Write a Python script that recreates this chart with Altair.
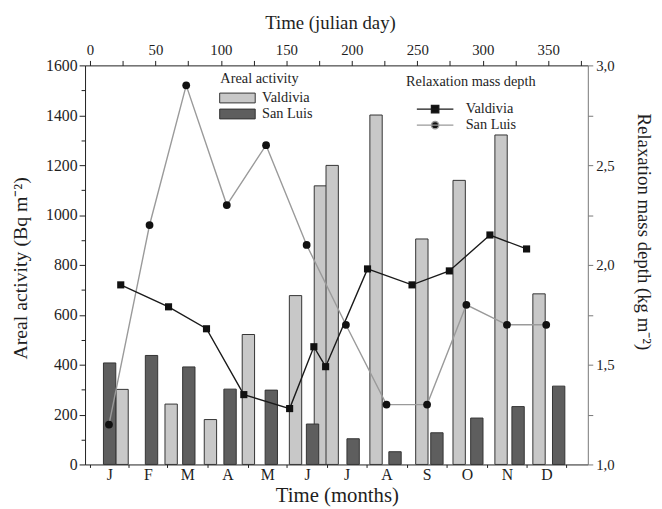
import altair as alt
import pandas as pd

# ---- data ----
sites = ["Valdivia", "San Luis"]

# Areal activity bars (julian day of bar centre, Bq m-2)
valdivia_bar_day = [24.5, 62, 92, 121, 157, 176, 185, 218.5, 253.5, 282, 314, 343]
valdivia_activity = [301, 242, 180, 521, 677, 1117, 1199, 1401, 904, 1139, 1321, 684]
sanluis_bar_day = [15, 47, 75.5, 107, 138.5, 170, 201, 233, 265, 295.5, 327, 358]
sanluis_activity = [407, 437, 391, 302, 298, 162, 103, 51, 127, 186, 232, 314]

# Relaxation mass depth (kg m-2)
valdivia_depth_day = [23.5, 60, 89, 117.5, 152.5, 171, 180, 212, 246, 274.5, 305.5, 333.5]
valdivia_depth = [1.90, 1.79, 1.68, 1.35, 1.28, 1.59, 1.49, 1.98, 1.90, 1.97, 2.15, 2.08]
sanluis_depth_day = [14.5, 45.5, 73.5, 104.5, 134.5, 165.5, 195.5, 226.5, 257.5, 287.5, 318.5, 348.5]
sanluis_depth = [1.20, 2.20, 2.90, 2.30, 2.60, 2.10, 1.70, 1.30, 1.30, 1.80, 1.70, 1.70]

# Month axis
month_letters = ["J", "F", "M", "A", "M", "J", "J", "A", "S", "O", "N", "D"]
month_starts = [0, 29.5, 59, 89.5, 120.5, 150.5, 181, 211, 242, 272.5, 303.5, 333.5, 364]
month_mids = [(a + b) / 2 for a, b in zip(month_starts[:-1], month_starts[1:])]

julian_ticks = list(range(0, 376, 25))
activity_ticks = list(range(0, 1601, 100))
depth_ticks = [1.0, 1.25, 1.5, 1.75, 2.0, 2.25, 2.5, 2.75, 3.0]

# ---- tables ----
bar_df = pd.DataFrame({
    "day": valdivia_bar_day + sanluis_bar_day,
    "activity": valdivia_activity + sanluis_activity,
    "site": ["Valdivia"] * len(valdivia_bar_day) + ["San Luis"] * len(sanluis_bar_day),
})
v_df = pd.DataFrame({"day": valdivia_depth_day, "depth": valdivia_depth, "site": "Valdivia"})
s_df = pd.DataFrame({"day": sanluis_depth_day, "depth": sanluis_depth, "site": "San Luis"})
depth_df = pd.concat([v_df, s_df], ignore_index=True)
# separate key (trailing space) so that this legend is not merged with the bar legend
depth_df["series"] = depth_df["site"] + " "
line_sites = [s + " " for s in sites]

FONT = "Liberation Serif"
INK = "#1e1e1e"

xscale = alt.Scale(domain=[0, 376.5], nice=False, zero=False)

starts_js = "[" + ",".join(str(v) for v in month_starts) + "]"
mids_js = "[" + ",".join(str(v) for v in month_mids) + "]"
letters_js = "[" + ",".join("'" + m + "'" for m in month_letters) + "]"

bottom_axis = alt.Axis(
    orient="bottom",
    values=month_starts + month_mids,
    labelExpr=f"indexof({mids_js}, datum.value) >= 0 ? {letters_js}[indexof({mids_js}, datum.value)] : ''",
    tickOpacity={"condition": {"test": f"indexof({starts_js}, datum.value) >= 0", "value": 1}, "value": 0},
    tickSize=3, labelPadding=-1, labelFlush=False, labelOverlap=False,
    labelFont=FONT, labelFontSize=16, labelColor=INK,
    domainColor=INK, tickColor=INK, grid=False,
    title="Time (months)", titleFont=FONT, titleFontSize=21, titleFontWeight="normal",
    titleColor=INK, titleX=255, titleY=32, titleAlign="center", titleBaseline="middle",
)

top_axis = alt.Axis(
    orient="top",
    values=julian_ticks, format="d",
    labelExpr="datum.value % 50 == 0 ? datum.label : ''",
    tickSize=5, labelPadding=3, labelFlush=False, labelOverlap=False,
    labelFont=FONT, labelFontSize=15, labelColor=INK,
    domainColor=INK, tickColor=INK, grid=False,
    title="Time (julian day)", titleFont=FONT, titleFontSize=19, titleFontWeight="normal",
    titleColor=INK, titleX=248, titleY=-43, titleAlign="center", titleBaseline="middle",
)

left_axis = alt.Axis(
    orient="left",
    values=activity_ticks, format="d",
    labelExpr="datum.value % 200 == 0 ? datum.label : ''",
    tickSize={"condition": {"test": "datum.value % 200 == 0", "value": 6}, "value": 4},
    labelPadding=2, labelOverlap=False,
    labelFont=FONT, labelFontSize=16, labelColor=INK,
    domainColor=INK, tickColor=INK, grid=False,
    title="Areal activity  (Bq m⁻²)", titleFont=FONT, titleFontSize=20, titleFontWeight="normal",
    titleColor=INK, titleX=-65, titleY=205, titleAngle=270,
    titleAlign="center", titleBaseline="middle",
)

right_axis = alt.Axis(
    orient="right",
    values=depth_ticks,
    labelExpr="abs(datum.value * 2 - round(datum.value * 2)) < 0.001 ? replace(format(datum.value, '.1f'), '.', ',') : ''",
    tickSize=5, labelPadding=3, labelOverlap=False,
    labelFont=FONT, labelFontSize=15, labelColor=INK,
    domainColor="#777777", tickColor="#777777", grid=False,
    title="Relaxation mass depth (kg m⁻²)", titleFont=FONT, titleFontSize=19, titleFontWeight="normal",
    titleColor=INK, titleX=56, titleY=168, titleAngle=90,
    titleAlign="center", titleBaseline="middle",
)

rect_path = "M-1,-0.69H4V0.69H-1Z"
sq_path = "M-1,0H4M1,-0.5H2V0.5H1Z"
ci_path = "M-1,0H4M2,0A0.5,0.5,0,1,1,1,0A0.5,0.5,0,1,1,2,0Z"

bar_legend = alt.Legend(
    title="Areal activity", orient="none", legendX=137, legendY=7,
    symbolType=rect_path, symbolSize=207, symbolStrokeColor="#333333", symbolStrokeWidth=1,
    symbolOffset=-1.5, labelOffset=27.6, rowPadding=1.2, titlePadding=3.5,
    labelFont=FONT, labelFontSize=14.5, labelColor=INK,
    titleFont=FONT, titleFontSize=14.5, titleFontWeight="normal", titleColor=INK,
)

line_legend = alt.Legend(
    title="Relaxation mass depth", orient="none", legendX=325, legendY=9.5,
    symbolSize=219, symbolStrokeWidth=1.4, symbolFillColor="#111111", symbolOpacity=1,
    symbolOffset=9.8, labelOffset=33.5, rowPadding=1.2, titlePadding=11.8,
    labelFont=FONT, labelFontSize=14.5, labelColor=INK,
    titleFont=FONT, titleFontSize=14.5, titleFontWeight="normal", titleColor=INK,
)

bars = alt.Chart(bar_df).mark_bar(size=12.5, stroke="#333333", strokeWidth=1).encode(
    x=alt.X("day:Q", scale=xscale, axis=bottom_axis),
    y=alt.Y("activity:Q", scale=alt.Scale(domain=[0, 1600], nice=False), axis=left_axis, stack=None),
    color=alt.Color("site:N", scale=alt.Scale(domain=sites, range=["#c8c8c8", "#5e5e5e"]),
                    legend=bar_legend),
)

x_top = alt.X("day:Q", scale=xscale, axis=top_axis)
y_right = alt.Y("depth:Q", scale=alt.Scale(domain=[1, 3], nice=False, zero=False), axis=right_axis)

s_line = alt.Chart(s_df).mark_line(color="#9a9a9a", strokeWidth=1.4).encode(x=x_top, y=y_right)
v_line = alt.Chart(v_df).mark_line(color="#1a1a1a", strokeWidth=1.4).encode(x=x_top, y=y_right)
s_pts = alt.Chart(s_df).mark_circle(size=62, color="#111111", opacity=1).encode(x=x_top, y=y_right)
v_pts = alt.Chart(v_df).mark_square(size=52, color="#111111", opacity=1).encode(x=x_top, y=y_right)

legend_layer = alt.Chart(depth_df).mark_point(opacity=0, fill="#111111", filled=False).encode(
    x=x_top, y=y_right,
    stroke=alt.Stroke("series:N", scale=alt.Scale(domain=line_sites, range=["#1a1a1a", "#9a9a9a"]),
                      legend=line_legend),
    shape=alt.Shape("series:N", scale=alt.Scale(domain=line_sites, range=[sq_path, ci_path]),
                    legend=line_legend),
)

lines = alt.layer(s_line, v_line, s_pts, v_pts, legend_layer)

chart = (
    alt.layer(bars, lines)
    .resolve_scale(y="independent")
    .resolve_axis(x="independent")
    .properties(
        width=509, height=404,
        padding={"left": 78, "top": 55, "right": 67, "bottom": 42},
        autosize=alt.AutoSizeParams(type="none"),
        background="white",
    )
    .configure_view(strokeOpacity=0)
)

chart.save("out.html", embed_options={"renderer": "svg", "actions": False})
